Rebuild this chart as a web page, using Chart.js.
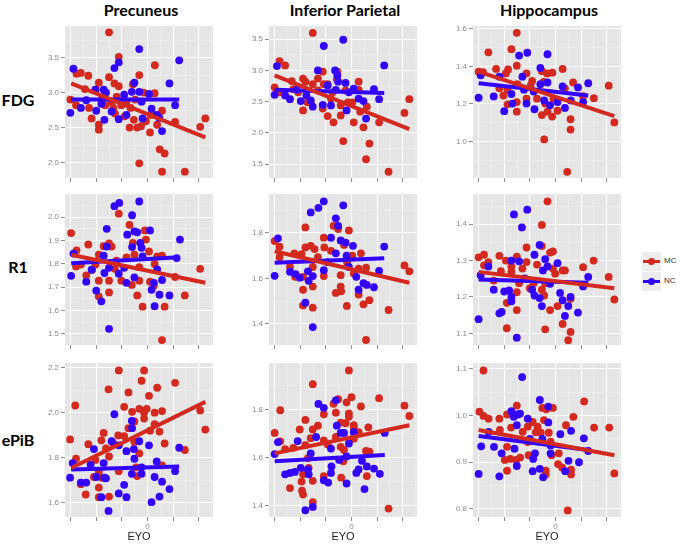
<!DOCTYPE html>
<html>
<head>
<meta charset="utf-8">
<script src="https://cdn.jsdelivr.net/npm/chart.js@4.4.1/dist/chart.umd.min.js"></script>
<style>
  body { margin: 0; background: #fff; width: 680px; height: 545px; position: relative; overflow: hidden; }
  canvas { position: absolute; }
  .coltitle { position: absolute; top: 0; width: 152px; line-height: 18px; text-align: center; font: bold 16px Lato, sans-serif; color: #000; }
  .rowlabel { position: absolute; left: 0; width: 36px; line-height: 20px; text-align: center; font: bold 16px Lato, sans-serif; color: #000; }
  .lkey { position: absolute; left: 642px; width: 19px; height: 19px; background: #ececec; }
  .lkey .ln { position: absolute; left: 1px; right: 1px; top: 8px; height: 3px; }
  .lkey .dt { position: absolute; left: 6px; top: 6px; width: 7px; height: 7px; border-radius: 50%; }
  .ltext { position: absolute; left: 664px; font: 8px 'Liberation Sans', Arial, sans-serif; color: #333; line-height: 10px; }
</style>
</head>
<body>
<div class="coltitle" style="left:65px">Precuneus</div>
<div class="coltitle" style="left:269px">Inferior Parietal</div>
<div class="coltitle" style="left:473px">Hippocampus</div>
<div class="rowlabel" style="top:90px">FDG</div>
<div class="rowlabel" style="top:257px">R1</div>
<div class="rowlabel" style="top:430px">ePiB</div>

<div class="lkey" style="top:252px"><div class="ln" style="background:#d3291f"></div><div class="dt" style="background:#d3291f"></div></div>
<div class="lkey" style="top:272px"><div class="ln" style="background:#3300ff"></div><div class="dt" style="background:#3300ff"></div></div>
<div class="ltext" style="top:256px">MC</div>
<div class="ltext" style="top:276px">NC</div>

<script>
// EYO axis (shared by all panels)
const eyoTicks = [-30, -20, -10, 0, 10, 20];
const eyoLabels = ['', '', '', '0', '', ''];
const eyoLim = [-32.2, 25.6];

// ---- FDG row ----
const fdgPrecMC = [[-15.0,3.86],[-11.2,3.51],[2.9,3.39],[-27.7,3.27],[-26.0,3.28],[-23.1,3.24],[-3.2,3.25],[-15,3.22],[-19,3.14],[-12.9,3.13],[-11.2,3.09],[-5.7,3.12],[-20.3,3.04],[-30.1,2.90],[-27.9,2.82],[-21.8,2.63],[-19,2.54],[-19,2.47],[-24.4,3.05],[-17.8,2.91],[-16.5,2.82],[-14,2.87],[-12,2.94],[-10.2,2.82],[-8.2,2.87],[-8.9,2.66],[-7,2.50],[-5.3,2.61],[-4,2.50],[-3.2,1.99],[-2.5,2.52],[-1.5,3.0],[-0.6,2.59],[1.0,2.43],[2.8,2.99],[3.8,2.54],[4.8,2.19],[5.7,2.74],[6.7,2.13],[5.7,1.87],[10.8,2.58],[14.6,1.87],[20.6,2.51],[22.6,2.63],[-22.8,2.78],[-13.3,2.78],[-6.6,2.78],[-4.8,2.90],[-12.7,2.70],[1.3,2.68]];
const fdgPrecNC = [[-28.9,3.34],[-30.1,2.71],[-26,2.78],[-23.9,2.89],[-20.3,3.04],[-20,2.74],[-17.1,3.04],[-16.2,3.0],[-16.8,2.61],[-12.9,3.35],[-11.2,3.43],[-11.2,2.62],[-9.1,2.97],[-6.1,3.01],[-5.1,3.14],[-3.2,3.62],[-3.2,3.01],[-2.3,2.87],[-1.9,2.63],[0.6,2.98],[1.6,2.77],[3.6,2.68],[4.6,2.64],[5.7,2.45],[8.6,3.13],[10.8,2.82],[12.4,3.46],[-14,2.73],[-8.2,2.68],[-18,2.84]];
const fdgPrecMCFit = [[-29.8,3.13],[22.6,2.36]];
const fdgPrecNCFit = [[-29.8,2.90],[12.4,2.90]];
const fdgPrecTicks = [2.0, 2.5, 3.0, 3.5];
const fdgPrecLim = [1.78, 3.95];

const fdgParMC = [[-15.1,3.60],[-28.1,3.15],[-25.9,3.08],[-30,2.73],[-28.1,2.65],[-23.3,2.83],[-22.7,2.70],[-18.9,2.87],[-18,2.82],[-18.9,2.36],[-17.2,2.49],[-15.1,2.78],[-13.1,2.87],[-11.2,2.98],[-10.8,2.78],[-11.2,2.39],[-9.3,2.27],[-7,2.17],[-5.5,2.98],[-5.7,2.86],[-4.2,2.28],[-3.2,1.87],[-2.3,2.68],[-1.4,2.49],[0.9,2.17],[2.8,2.82],[2.8,2.69],[3.4,2.34],[4.7,2.09],[5.7,1.58],[6.0,2.42],[7.0,1.83],[10.8,2.17],[14.5,1.38],[20.7,2.32],[22.6,2.54],[-8,2.55],[-7.4,2.65],[-4.2,2.44],[0.3,2.49],[-20.8,2.65],[-13.1,2.68],[-15.9,2.49],[-9.3,2.78]];
const fdgParNC = [[-30,2.61],[-29.1,3.07],[-25.9,2.60],[-24,2.54],[-21.4,2.69],[-19.8,2.51],[-17.6,2.60],[-15.9,2.52],[-15.1,2.42],[-13.1,3.0],[-10.8,3.39],[-11.2,2.45],[-9.3,2.76],[-8,2.44],[-6.4,3.0],[-5.5,2.92],[-5.2,2.82],[-6.1,2.69],[-3.2,3.49],[-2.3,2.80],[-1.9,2.36],[0.9,2.71],[2.8,2.55],[4.7,2.51],[5.7,2.23],[8.8,2.70],[10.8,2.54],[12.8,3.08],[-1,2.65]];
const fdgParMCFit = [[-30,2.92],[22.6,2.06]];
const fdgParNCFit = [[-30,2.69],[12.8,2.64]];
const fdgParTicks = [1.5, 2.0, 2.5, 3.0, 3.5];
const fdgParLim = [1.28, 3.71];

const fdgHipMC = [[-15.1,1.578],[-17.2,1.491],[-26.2,1.474],[-15.1,1.403],[-30,1.371],[-28.3,1.369],[-23.2,1.386],[-18.5,1.383],[-19.4,1.362],[-11.3,1.362],[-9.1,1.322],[-5.3,1.374],[-3.3,1.362],[-1.2,1.366],[2.8,1.386],[6.9,1.314],[-4.6,1.317],[-14.9,1.305],[-21.9,1.283],[-18.7,1.276],[-20.3,1.245],[-18.7,1.198],[-15.1,1.210],[-15.1,1.159],[-11.3,1.228],[-7.2,1.228],[-5.3,1.141],[-1.3,1.133],[-3.1,1.159],[-4,1.202],[0.8,1.164],[3.7,1.283],[5.9,1.119],[5.9,1.064],[4.6,0.840],[-4.4,1.012],[15,1.231],[20.8,1.297],[23,1.102],[10.8,1.241],[-0.8,1.228],[-9.7,1.297]];
const fdgHipNC = [[-30,1.233],[-29.2,1.352],[-24.1,1.240],[-21.9,1.345],[-20,1.162],[-17.2,1.253],[-16.8,1.202],[-14.2,1.457],[-12.9,1.345],[-11,1.472],[-11.3,1.202],[-8.2,1.172],[-5.9,1.391],[-5.9,1.305],[-3.1,1.464],[-3.1,1.314],[-4.4,1.219],[-2.1,1.193],[0.8,1.210],[2.8,1.293],[3.7,1.179],[6.0,1.219],[8.8,1.288],[10.8,1.210],[12.8,1.310],[-8.5,1.266],[-12.3,1.276]];
const fdgHipMCFit = [[-30.6,1.374],[23,1.136]];
const fdgHipNCFit = [[-30,1.310],[12.8,1.245]];
const fdgHipTicks = [1.0, 1.2, 1.4, 1.6];
const fdgHipLim = [0.807, 1.614];

// ---- R1 row ----
const r1PrecMC = [[-29.8,1.932],[-27.7,1.858],[-23.1,1.883],[-27.9,1.789],[-26,1.797],[-23.9,1.751],[-20.3,1.797],[-19,1.839],[-19,1.728],[-19,1.661],[-17.1,1.876],[-15,1.888],[-14,1.874],[-15,1.728],[-15,1.678],[-11.2,2.015],[-12.1,1.814],[-10.2,1.728],[-7,1.967],[-5.7,1.890],[-5.1,1.839],[-6.1,1.710],[-4,1.665],[-3.2,1.786],[-3.2,1.728],[-1.9,1.617],[-1,1.943],[-0.6,1.904],[0.6,1.853],[1,1.724],[2.5,1.706],[2.8,1.8],[3.8,1.832],[5.7,1.835],[6.7,1.617],[5.7,1.474],[10.8,1.744],[14.6,1.665],[20.6,1.779],[-8.2,1.828],[-12.7,1.779],[-21.6,1.775]];
const r1PrecNC = [[-29.8,1.749],[-28.9,1.844],[-23.9,1.724],[-21.8,1.775],[-20,1.686],[-18,1.640],[-17.1,1.835],[-16.8,1.761],[-15.9,1.950],[-15.9,1.874],[-15,1.783],[-12.9,2.047],[-11,2.061],[-11.2,1.758],[-9.1,1.783],[-7.9,1.925],[-8.2,1.719],[-6,2.008],[-6,1.872],[-5.1,1.939],[-4,1.935],[-5.1,1.742],[-3.2,2.067],[-2.8,1.890],[-2.3,1.869],[-1.9,1.832],[1,1.943],[1.6,1.689],[2.8,1.619],[3.8,1.776],[4.7,1.668],[5.7,1.731],[8.6,1.665],[11.4,1.825],[12.7,1.904],[-15,1.522],[2.5,1.719]];
const r1PrecMCFit = [[-29.8,1.839],[22.6,1.719]];
const r1PrecNCFit = [[-29.8,1.803],[12.4,1.828]];
const r1PrecTicks = [1.5, 1.6, 1.7, 1.8, 1.9, 2.0];
const r1PrecLim = [1.453, 2.099];

const r1ParMC = [[-30,1.764],[-28.1,1.739],[-28.1,1.693],[-24,1.650],[-22.3,1.71],[-18,1.824],[-19.5,1.707],[-18,1.736],[-15.9,1.743],[-14.4,1.729],[-15.1,1.650],[-18.9,1.607],[-18.9,1.55],[-18.9,1.481],[-15.1,1.564],[-15.1,1.471],[-10.8,1.779],[-10.6,1.736],[-10.8,1.61],[-7,1.831],[-5.2,1.817],[-6.1,1.536],[-4.2,1.564],[-4,1.543],[-1.8,1.479],[-1,1.811],[-2.9,1.747],[0.3,1.7],[-4.2,1.614],[2.8,1.643],[2.8,1.529],[4.7,1.486],[5.7,1.329],[7,1.504],[5.7,1.647],[3.7,1.71],[14.5,1.461],[20.7,1.657],[22.6,1.631],[-8,1.721],[-13.1,1.693],[-1.7,1.671],[0.9,1.621],[-22,1.607]];
const r1ParNC = [[-30,1.611],[-28.7,1.776],[-24,1.629],[-21.8,1.619],[-20.2,1.603],[-17,1.631],[-16.7,1.589],[-15.9,1.890],[-15.1,1.610],[-18,1.493],[-15.1,1.386],[-12.9,1.91],[-10.8,1.939],[-10.8,1.636],[-8,1.779],[-6.1,1.864],[-6.1,1.71],[-5.2,1.831],[-3.2,1.921],[-4.2,1.767],[-2.3,1.757],[-1.9,1.7],[-1,1.65],[0.6,1.743],[1.9,1.607],[2.8,1.55],[4.7,1.579],[6,1.571],[8.8,1.561],[10.8,1.633],[12.8,1.74],[-9.3,1.671]];
const r1ParMCFit = [[-30,1.719],[22.6,1.581]];
const r1ParNCFit = [[-30,1.669],[12.8,1.689]];
const r1ParTicks = [1.4, 1.6, 1.8];
const r1ParLim = [1.307, 1.971];

const r1HipMC = [[-30,1.309],[-27.9,1.316],[-27.9,1.287],[-26.2,1.296],[-24.1,1.245],[-21.9,1.313],[-19.4,1.3],[-19,1.184],[-19,1.114],[-17.2,1.284],[-17.2,1.269],[-15.1,1.311],[-15.1,1.213],[-15.1,1.164],[-14.2,1.238],[-12.9,1.278],[-11.3,1.336],[-11.3,1.296],[-10,1.224],[-7.2,1.289],[-5.3,1.398],[-5.3,1.34],[-5.3,1.22],[-4.4,1.204],[-4,1.111],[-3.1,1.463],[-2.1,1.322],[-2.1,1.164],[-1,1.325],[-1,1.278],[-0.1,1.264],[0.8,1.175],[2.8,1.273],[3.7,1.273],[2.8,1.126],[5,1.081],[5.9,1.104],[5.9,1.195],[10.8,1.282],[14.9,1.3],[20.8,1.255],[23,1.193],[-4,1.238],[-8.5,1.238],[-21.3,1.271]];
const r1HipNC = [[-30,1.139],[-29.2,1.26],[-26.2,1.284],[-24.1,1.22],[-21.9,1.155],[-21,1.159],[-20,1.215],[-18.1,1.218],[-17.2,1.3],[-17.2,1.2],[-17.2,1.188],[-16.2,1.427],[-15.1,1.088],[-14.2,1.298],[-13.1,1.391],[-11,1.44],[-9.1,1.22],[-8.2,1.316],[-8.2,1.204],[-6.2,1.197],[-6.2,1.343],[-5.3,1.175],[-4.9,1.273],[-4,1.304],[-3.1,1.284],[-2.1,1.236],[0.8,1.293],[1.8,1.211],[2.8,1.191],[3.7,1.148],[5,1.175],[5.9,1.2],[8.8,1.157],[10.8,1.229],[12.8,1.255],[-12,1.251]];
const r1HipMCFit = [[-30,1.269],[23,1.224]];
const r1HipNCFit = [[-30,1.248],[12.8,1.239]];
const r1HipTicks = [1.1, 1.2, 1.3, 1.4];
const r1HipLim = [1.068, 1.483];

// ---- ePiB row ----
const pibPrecMC = [[-30.2,1.881],[-28.2,2.032],[-27.9,1.795],[-26,1.682],[-24.1,1.636],[-23.1,1.860],[-20.3,1.790],[-19,1.737],[-19,1.667],[-19,1.624],[-18,1.877],[-17.1,1.910],[-17.8,1.711],[-16.2,1.841],[-15.2,2.104],[-15,1.805],[-15,1.627],[-13.3,1.863],[-11.2,2.188],[-11.4,1.899],[-11.2,1.740],[-9.1,2.026],[-9.1,1.896],[-7.4,2.090],[-7.4,1.931],[-6,2.004],[-5.1,1.961],[-5.1,1.870],[-3.2,2.017],[-3.2,1.819],[-4,1.718],[-2.3,2.142],[-1.3,2.188],[-1.3,2.0],[-1.3,1.974],[-0.3,2.017],[0.6,2.075],[1,1.920],[2.8,2.0],[2.8,1.949],[3.8,2.111],[4.7,1.916],[5.7,2.007],[5.7,1.766],[6.7,1.863],[10.8,2.133],[14.6,1.834],[20.6,2.010],[22.6,1.925],[-4.4,1.757],[-20.9,1.714]];
const pibPrecNC = [[-30.2,1.711],[-29.2,1.776],[-26,1.689],[-23.9,1.689],[-22.2,1.769],[-20.9,1.838],[-20,1.714],[-18,1.624],[-17.1,1.776],[-16.8,1.711],[-16.2,1.708],[-15.2,1.563],[-14,1.873],[-12.9,1.993],[-11.2,1.855],[-11.2,1.641],[-9.1,1.679],[-8.2,1.624],[-8.2,1.829],[-6.1,1.964],[-6,1.931],[-5.3,1.838],[-5.1,1.795],[-6.1,1.728],[-3.2,1.873],[-2.3,1.757],[-2.3,1.728],[0.6,1.855],[1.6,1.602],[2.8,1.714],[3.6,1.783],[4.7,1.627],[5.7,1.693],[8.6,1.660],[10.8,1.740],[12.4,1.844]];
const pibPrecMCFit = [[-29.8,1.754],[22.6,2.048]];
const pibPrecNCFit = [[-29.8,1.747],[12.4,1.761]];
const pibPrecTicks = [1.6, 1.8, 2.0, 2.2];
const pibPrecLim = [1.536, 2.221];

const pibParMC = [[-30,1.703],[-27.8,1.797],[-27.8,1.668],[-25.9,1.636],[-24,1.474],[-22.7,1.641],[-20.2,1.717],[-19.5,1.501],[-19.3,1.463],[-18.9,1.447],[-18.9,1.531],[-18,1.757],[-18,1.652],[-17,1.598],[-16.7,1.558],[-15.9,1.681],[-15.1,1.905],[-15.1,1.717],[-15.1,1.504],[-15.1,1.416],[-13.1,1.733],[-10.8,1.780],[-10.8,1.672],[-10.8,1.524],[-9.3,1.655],[-7,1.824],[-6.1,1.787],[-6.1,1.686],[-5.2,1.843],[-4.2,1.746],[-4.2,1.645],[-4,1.517],[-3.2,1.585],[-2.3,1.743],[-1.9,1.830],[-1,1.962],[-1,1.784],[-1,1.770],[0,1.851],[0.9,1.735],[0.9,1.726],[2.8,1.706],[3.7,1.813],[5.7,1.628],[6,1.524],[6.6,1.726],[7,1.625],[10.8,1.847],[14.5,1.389],[20.7,1.816],[22.6,1.773],[0.9,1.679],[-2.9,1.632]];
const pibParNC = [[-30,1.615],[-28.7,1.665],[-25.9,1.531],[-24,1.537],[-22.1,1.541],[-21,1.669],[-19.8,1.558],[-18,1.382],[-17,1.551],[-16.7,1.531],[-15.9,1.618],[-15.1,1.396],[-13.8,1.686],[-12.9,1.823],[-10.8,1.807],[-10.8,1.506],[-9.1,1.497],[-8,1.638],[-7.8,1.564],[-8,1.537],[-6.1,1.838],[-5.7,1.733],[-4.8,1.591],[-4.2,1.703],[-2.9,1.703],[-1.9,1.605],[-1.9,1.493],[-1,1.659],[0.9,1.706],[1.9,1.537],[2.8,1.551],[4.1,1.587],[5.1,1.470],[6,1.564],[8.8,1.555],[11.1,1.533],[13,1.703]];
const pibParMCFit = [[-30,1.618],[22.6,1.735]];
const pibParNCFit = [[-30,1.585],[13,1.611]];
const pibParTicks = [1.4, 1.6, 1.8];
const pibParLim = [1.354, 1.993];

const pibHipMC = [[-28.1,1.096],[-29.7,1.008],[-28.1,0.999],[-26.1,0.993],[-21.9,0.993],[-18.9,1.002],[-15.1,1.021],[-17.3,0.974],[-18.9,0.933],[-19.8,0.905],[-18.9,0.882],[-17.6,0.907],[-15.3,0.905],[-13.8,0.910],[-12.8,0.965],[-10.8,0.976],[-10.5,0.915],[-8.9,0.986],[-7.7,0.964],[-7,0.976],[-5.7,0.963],[-5.1,1.016],[-3.6,1.013],[-4.5,0.990],[-2.6,0.963],[-1,1.016],[-1.9,0.944],[-3.8,0.882],[-3.8,0.874],[-1.5,0.915],[1.3,0.919],[1,0.896],[2.6,0.889],[4.1,0.979],[4.8,0.797],[6.1,0.874],[7,0.997],[6.1,0.884],[11.2,1.030],[15.1,0.974],[21,0.974],[23,0.876],[-10.8,0.943],[-21.7,0.969]];
const pibHipNC = [[-30,0.875],[-29,0.934],[-26.1,0.965],[-24,0.933],[-21.9,0.870],[-21,0.919],[-17.2,1.009],[-16.3,0.997],[-14.7,1.002],[-13.8,1.004],[-16,0.929],[-15.1,0.892],[-15.1,0.979],[-13,1.082],[-10.8,0.993],[-8.9,0.881],[-8.7,0.907],[-8,0.919],[-6.1,0.886],[-6.1,1.033],[-4.8,0.868],[-2.8,1.019],[-2.8,0.985],[-5.1,0.950],[-1.9,0.919],[-1.9,0.936],[1.9,0.960],[3.8,0.881],[5.1,0.903],[6.1,0.967],[9.2,0.900],[11.1,0.951],[12.8,0.924],[-10,0.95]];
const pibHipMCFit = [[-30,0.969],[23,0.915]];
const pibHipNCFit = [[-30,0.956],[12.8,0.926]];
const pibHipTicks = [0.8, 0.9, 1.0, 1.1];
const pibHipLim = [0.783, 1.112];

const MC_COLOR = '#d3291f';
const NC_COLOR = '#3300ff';

const colLeft = [65, 269, 473];
const rowTop = [22, 190, 359];
const rowH = [156, 155, 158];
const PANEL_W = 152;
const YAXIS_W = 24;

// major ticks plus the ggplot minor ticks half way between them
function withMinor(majors, lim) {
    const step = majors[1] - majors[0];
    const out = [];
    const first = majors[0] - step / 2;
    if (first >= lim[0]) out.push({ value: first, minor: true });
    majors.forEach(m => {
        out.push({ value: m, minor: false });
        const mid = m + step / 2;
        if (mid <= lim[1]) out.push({ value: mid, minor: true });
    });
    return out.filter(t => t.value >= lim[0] - 1e-9 && t.value <= lim[1] + 1e-9);
}

const panelBg = {
    id: 'panelBg',
    beforeDraw(chart) {
        const a = chart.chartArea;
        const ctx = chart.ctx;
        ctx.save();
        ctx.fillStyle = '#e5e5e5';
        ctx.fillRect(a.left, a.top, a.right - a.left, a.bottom - a.top);
        ctx.restore();
    }
};

function toXY(arr) {
    return arr.map(p => ({ x: p[0], y: p[1] }));
}

function makePanel(row, col, mc, nc, mcFit, ncFit, yTicks, yLim) {
    const bottomRow = row === 2;
    const xh = bottomRow ? 28 : 8;
    const canvas = document.createElement('canvas');
    canvas.width = YAXIS_W + PANEL_W;
    canvas.height = rowH[row] + xh;
    canvas.style.left = (colLeft[col] - YAXIS_W) + 'px';
    canvas.style.top = rowTop[row] + 'px';
    document.body.appendChild(canvas);

    const gridColor = c => (c.tick && c.tick.minor) ? '#f0f0f0' : '#ffffff';
    const gridWidth = c => (c.tick && c.tick.minor) ? 0.6 : 1.1;
    const tickColor = c => (c.tick && c.tick.minor) ? 'rgba(0,0,0,0)' : '#8a8a8a';

    new Chart(canvas, {
        type: 'scatter',
        data: {
            datasets: [
                { data: toXY(mcFit), showLine: true, pointRadius: 0, borderColor: MC_COLOR, borderWidth: 4, order: 0 },
                { data: toXY(ncFit), showLine: true, pointRadius: 0, borderColor: NC_COLOR, borderWidth: 4, order: 1 },
                { data: toXY(nc), pointRadius: 3.9, backgroundColor: NC_COLOR, borderWidth: 0, order: 2 },
                { data: toXY(mc), pointRadius: 3.9, backgroundColor: MC_COLOR, borderWidth: 0, order: 3 }
            ]
        },
        options: {
            responsive: false,
            animation: false,
            events: [],
            devicePixelRatio: 1,
            layout: { padding: 0 },
            plugins: { legend: { display: false }, tooltip: { enabled: false } },
            scales: {
                x: {
                    type: 'linear',
                    min: eyoLim[0],
                    max: eyoLim[1],
                    afterBuildTicks: s => { s.ticks = withMinor(eyoTicks, eyoLim); },
                    afterFit: s => { s.height = xh; s.paddingLeft = 0; s.paddingRight = 0; s.paddingTop = 0; s.paddingBottom = 0; },
                    border: { display: false },
                    grid: { color: gridColor, lineWidth: gridWidth, tickColor: tickColor, tickLength: 4, tickWidth: 1 },
                    ticks: {
                        autoSkip: false,
                        maxRotation: 0,
                        padding: 1,
                        color: '#8a8a8a',
                        font: { family: "'Liberation Sans', Arial, sans-serif", size: 8 },
                        callback: (v, i, ticks) => {
                            if (!bottomRow || ticks[i].minor) return '';
                            const k = eyoTicks.indexOf(v);
                            return k >= 0 ? eyoLabels[k] : '';
                        }
                    },
                    title: {
                        display: bottomRow,
                        text: 'EYO',
                        color: '#222',
                        padding: { top: 0, bottom: 1 },
                        font: { family: "'Liberation Sans', Arial, sans-serif", size: 11 }
                    }
                },
                y: {
                    type: 'linear',
                    min: yLim[0],
                    max: yLim[1],
                    afterBuildTicks: s => { s.ticks = withMinor(yTicks, yLim); },
                    afterFit: s => { s.width = YAXIS_W; s.paddingTop = 0; s.paddingBottom = 0; s.paddingLeft = 0; s.paddingRight = 0; },
                    border: { display: false },
                    grid: { color: gridColor, lineWidth: gridWidth, tickColor: tickColor, tickLength: 4, tickWidth: 1 },
                    ticks: {
                        autoSkip: false,
                        padding: 2,
                        color: '#8a8a8a',
                        font: { family: "'Liberation Sans', Arial, sans-serif", size: 8 },
                        callback: (v, i, ticks) => ticks[i].minor ? '' : v.toFixed(1)
                    }
                }
            }
        },
        plugins: [panelBg]
    });
}

makePanel(0, 0, fdgPrecMC, fdgPrecNC, fdgPrecMCFit, fdgPrecNCFit, fdgPrecTicks, fdgPrecLim);
makePanel(0, 1, fdgParMC, fdgParNC, fdgParMCFit, fdgParNCFit, fdgParTicks, fdgParLim);
makePanel(0, 2, fdgHipMC, fdgHipNC, fdgHipMCFit, fdgHipNCFit, fdgHipTicks, fdgHipLim);
makePanel(1, 0, r1PrecMC, r1PrecNC, r1PrecMCFit, r1PrecNCFit, r1PrecTicks, r1PrecLim);
makePanel(1, 1, r1ParMC, r1ParNC, r1ParMCFit, r1ParNCFit, r1ParTicks, r1ParLim);
makePanel(1, 2, r1HipMC, r1HipNC, r1HipMCFit, r1HipNCFit, r1HipTicks, r1HipLim);
makePanel(2, 0, pibPrecMC, pibPrecNC, pibPrecMCFit, pibPrecNCFit, pibPrecTicks, pibPrecLim);
makePanel(2, 1, pibParMC, pibParNC, pibParMCFit, pibParNCFit, pibParTicks, pibParLim);
makePanel(2, 2, pibHipMC, pibHipNC, pibHipMCFit, pibHipNCFit, pibHipTicks, pibHipLim);
</script>
</body>
</html>
